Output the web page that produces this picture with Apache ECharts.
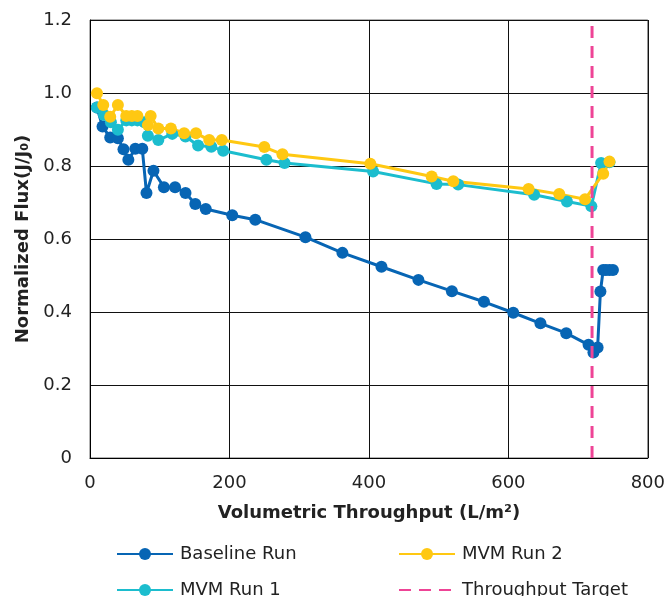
<!DOCTYPE html>
<html>
<head>
<meta charset="utf-8">
<script src="https://cdn.jsdelivr.net/npm/echarts@6/dist/echarts.min.js"></script>
<style>
  html, body { margin: 0; padding: 0; background: #fff; }
  #chart { width: 668px; height: 596px; }
</style>
</head>
<body>
<div id="chart"></div>
<script>
// data
const baselineX = [10, 18, 29, 40, 48, 55, 65, 75, 81, 91, 106, 122, 137, 151, 166, 204, 237, 309, 362, 418, 471, 519, 565, 607, 646, 683, 715, 722, 728, 732, 736, 740, 745, 750];
const baselineY = [0.96, 0.908, 0.878, 0.876, 0.846, 0.817, 0.847, 0.847, 0.726, 0.787, 0.742, 0.742, 0.726, 0.696, 0.682, 0.665, 0.653, 0.605, 0.562, 0.524, 0.488, 0.457, 0.428, 0.398, 0.369, 0.342, 0.310, 0.289, 0.303, 0.456, 0.515, 0.515, 0.515, 0.515];

const run1X = [10, 20, 30, 40, 52, 60, 68, 78, 83, 98, 118, 137, 155, 174, 191, 253, 279, 406, 497, 528, 637, 684, 719, 733, 745];
const run1Y = [0.96, 0.94, 0.92, 0.899, 0.925, 0.925, 0.925, 0.92, 0.883, 0.871, 0.888, 0.881, 0.856, 0.853, 0.842, 0.817, 0.808, 0.785, 0.751, 0.749, 0.721, 0.703, 0.690, 0.808, 0.81];

const run2X = [10, 19, 29, 40, 52, 60, 68, 83, 87, 98, 116, 135, 152, 171, 189, 250, 276, 402, 490, 521, 629, 673, 710, 736, 745];
const run2Y = [0.999, 0.967, 0.935, 0.967, 0.937, 0.937, 0.937, 0.912, 0.937, 0.903, 0.903, 0.89, 0.89, 0.871, 0.871, 0.852, 0.832, 0.806, 0.771, 0.758, 0.737, 0.723, 0.709, 0.779, 0.812];

const targetX = 720;
const xTicks = [0, 800, 200];
const yTicks = [0, 1.2, 0.2];

const zip = (xs, ys) => xs.map((x, i) => [x, ys[i]]);

const font = "DejaVu Sans";
const myChart = echarts.init(document.getElementById("chart"));

function lineSeries(name, color, data) {
  return {
    name: name,
    type: "line",
    symbol: "circle",
    symbolSize: 12,
    data: data,
    itemStyle: { color: color },
    lineStyle: { color: color, width: 3 },
    z: 3,
  };
}

function legendAt(left, top, item) {
  return {
    left: left,
    top: top,
    padding: 0,
    itemWidth: 56,
    itemHeight: 15,
    itemGap: 0,
    textStyle: { fontFamily: font, fontSize: 18, color: "#222", padding: [0, 0, 0, 2] },
    data: [item],
  };
}

const option = {
  animation: false,
  textStyle: { fontFamily: font },
  grid: {
    left: 90,
    right: 17,
    top: 20,
    bottom: 138,
    show: true,
    borderColor: "#666",
    borderWidth: 1,
  },
  legend: [
    legendAt(116, 545, "Baseline Run"),
    legendAt(116, 581, "MVM Run 1"),
    legendAt(398, 545, "MVM Run 2"),
    legendAt(398, 581, { name: "Throughput Target", itemStyle: { opacity: 0 } }),
  ],
  xAxis: {
    type: "value",
    min: xTicks[0],
    max: xTicks[1],
    interval: xTicks[2],
    name: "Volumetric Throughput (L/m²)",
    nameLocation: "middle",
    nameGap: 46,
    nameTextStyle: { fontFamily: font, fontSize: 18, fontWeight: "bold", color: "#222" },
    axisLine: { lineStyle: { color: "#000", width: 1 } },
    axisTick: { show: false },
    axisLabel: { fontFamily: font, fontSize: 18, color: "#222", margin: 16 },
    splitLine: { lineStyle: { color: "#111", width: 1 } },
  },
  yAxis: {
    type: "value",
    min: yTicks[0],
    max: yTicks[1],
    interval: yTicks[2],
    name: "Normalized Flux(J/J₀)",
    nameLocation: "middle",
    nameGap: 58,
    nameTextStyle: { fontFamily: font, fontSize: 18, fontWeight: "bold", color: "#222" },
    axisLine: { show: true, lineStyle: { color: "#000", width: 1 } },
    axisTick: { show: false },
    axisLabel: {
      fontFamily: font,
      fontSize: 18,
      color: "#222",
      margin: 18,
      formatter: (v) => (v === 0 ? "0" : v.toFixed(1)),
    },
    splitLine: { lineStyle: { color: "#111", width: 1 } },
  },
  series: [
    {
      name: "Throughput Target",
      type: "line",
      symbol: "none",
      data: [[targetX, yTicks[0]], [targetX, yTicks[1]]],
      itemStyle: { color: "#EE4496" },
      lineStyle: { color: "#EE4496", width: 3, type: [12, 8] },
      z: 5,
    },
    lineSeries("Baseline Run", "#0765B4", zip(baselineX, baselineY)),
    lineSeries("MVM Run 1", "#1CBDCE", zip(run1X, run1Y)),
    lineSeries("MVM Run 2", "#FFC812", zip(run2X, run2Y)),
  ],
};

myChart.setOption(option);
</script>
</body>
</html>
